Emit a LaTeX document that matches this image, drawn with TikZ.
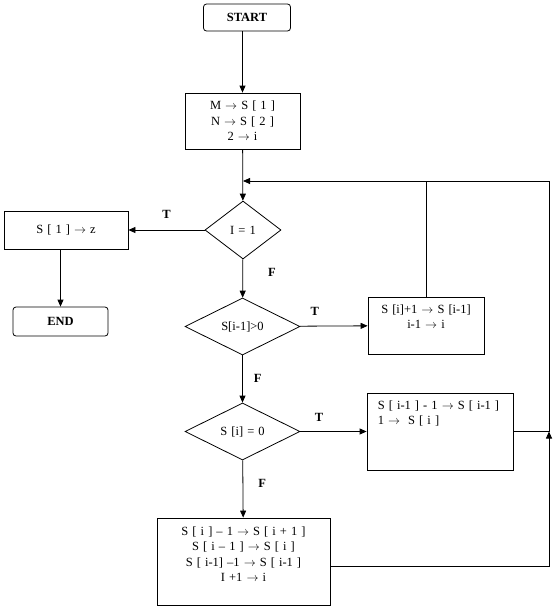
\documentclass[tikz,border=0pt]{standalone}
\usepackage{fontspec}
\setmainfont[WordSpace=1.3]{Liberation Serif}
\usetikzlibrary{arrows.meta,shapes.geometric}
\newcommand{\asg}{\ensuremath{\rightarrow}}

\begin{document}
\begin{tikzpicture}[
  x=1pt,y=-1pt,
  font=\fontsize{12.5}{15.5}\selectfont,
  term/.style={draw,rounded corners=3pt,line width=0.8pt,font=\fontsize{12.5}{15.5}\selectfont\bfseries,inner sep=0pt},
  box/.style={draw,line width=0.8pt,align=center,inner sep=0pt},
  cond/.style={draw,diamond,line width=0.8pt,inner sep=0pt},
  lbl/.style={font=\fontsize{12.5}{15.5}\selectfont\bfseries,inner sep=0pt},
  arr/.style={-{Triangle[length=7pt,width=6pt]},line width=0.8pt}
]
\useasboundingbox (0,0) rectangle (556,608);

% Start and initial values
\node[term,minimum width=87,minimum height=27] (start) at (247,17.5) {START};
\node[box,minimum width=115,minimum height=56] (init) at (242.5,121) {M \asg{} S [ 1 ]\\N \asg{} S [ 2 ]\\2 \asg{} i};
\draw[arr] (start.south -| init) -- (init);

% First test and exit
\node[cond,minimum width=76,minimum height=58] (q1) at (243,230) {I = 1};
\node[box,minimum width=124,minimum height=38] (out) at (66,230) {S [ 1 ] \asg{} z};
\node[term,minimum width=95,minimum height=29] (stop) at (60.5,321.5) {END};
\draw[arr] (init) -- (q1);
\draw[arr] (q1) -- node[lbl,above=11pt] {T} (out);
\draw[arr] (out.south -| stop) -- (stop);

% Second test
\node[cond,minimum width=115,minimum height=57] (q2) at (242.5,326.5) {S[i-1]>0};
\node[box,minimum width=116,minimum height=57] (dec) at (426,325.5) {};
\node[align=center,anchor=north,inner sep=0pt] (dectxt) at ([yshift=-8pt]dec.north) {S [i]+1 \asg{} S [i-1]\\i-1 \asg{} i};
\draw[arr] (q1) -- node[lbl,pos=0.35,right=25pt] {F} (q2);
\draw[arr] (q2) -- node[lbl,pos=0.22,above=10pt] {T} (dec);

% Third test
\node[cond,minimum width=115,minimum height=57] (q3) at (242.5,431.5) {S [i] = 0};
\node[box,minimum width=146,minimum height=77] (upd) at (440,431.5) {};
\node[align=left,anchor=north west,inner sep=0pt] (updtxt) at ([xshift=11pt,yshift=-8pt]upd.north west) {S [ i-1 ] - 1 \asg{} S [ i-1 ]\\1 \asg\ \ S [ i ]};
\draw[arr] (q2) -- node[lbl,pos=0.48,right=11pt] {F} (q3);
\draw[arr] (q3) -- node[lbl,pos=0.28,above=10pt] {T} (upd);

% Shift step
\node[box,minimum width=173,minimum height=87] (shift) at (243.5,561.5) {};
\node[align=center,anchor=north,inner sep=0pt] (shifttxt) at ([yshift=-9pt]shift.north) {S [ i ] – 1 \asg{} S [ i + 1 ]\\S [ i – 1 ] \asg{} S [ i ]\\S [ i-1] –1 \asg{} S [ i-1 ]\\I +1 \asg{} i};
\draw[arr] (q3) -- node[lbl,pos=0.41,right=15pt] {F} (shift);

% Return paths
\coordinate (top) at (549,181);
\coordinate (join) at (243,181);
\draw[arr] ([yshift=-4.5pt]shift.east) -| (upd.east -| top);
\draw[arr] (upd.east) -- (upd.east -| top) -- (top) -- (join);
\draw[line width=0.8pt] (dec.north) -- (dec.north |- top);
\end{tikzpicture}
\end{document}
